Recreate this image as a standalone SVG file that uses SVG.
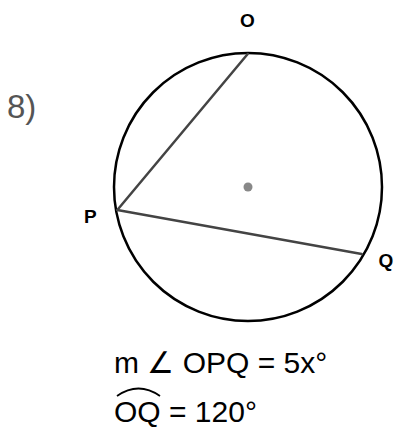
<svg xmlns="http://www.w3.org/2000/svg" width="394" height="429" viewBox="0 0 394 429">
<style>
.lbl{font-family:"Liberation Sans",Arial,sans-serif;font-weight:bold;font-size:19px;fill:#000}
.eq{font-family:"Liberation Sans",Arial,sans-serif;font-size:30px;fill:#000}
.chord{stroke:#444;stroke-width:2.5;fill:none;stroke-linecap:round}
</style>
<rect width="394" height="429" fill="#fff"/>
<text x="7" y="118" font-family="Liberation Sans, Arial, sans-serif" font-size="33" fill="#555">8)</text>
<g id="circle">
<circle cx="248" cy="187" r="134" fill="none" stroke="#000" stroke-width="2.5"/>
<circle cx="248" cy="187" r="4.5" fill="#888"/>
</g>
<g id="connectors">
<line class="chord" x1="247.7" y1="54" x2="117.3" y2="210"/>
<line class="chord" x1="117.3" y1="210" x2="361.7" y2="254"/>
</g>
<g id="O"><text class="lbl" x="247.5" y="27" text-anchor="middle">O</text></g>
<g id="P"><text class="lbl" x="84" y="223">P</text></g>
<g id="Q"><text class="lbl" x="386" y="267" text-anchor="middle">Q</text></g>
<g id="equations">
<text class="eq" x="114" y="373">m ∠ OPQ = 5x°</text>
<text class="eq" x="114" y="422">OQ = 120°</text>
<path d="M117,396 Q138.5,381 160,396" fill="none" stroke="#000" stroke-width="1.8"/>
</g>
</svg>
